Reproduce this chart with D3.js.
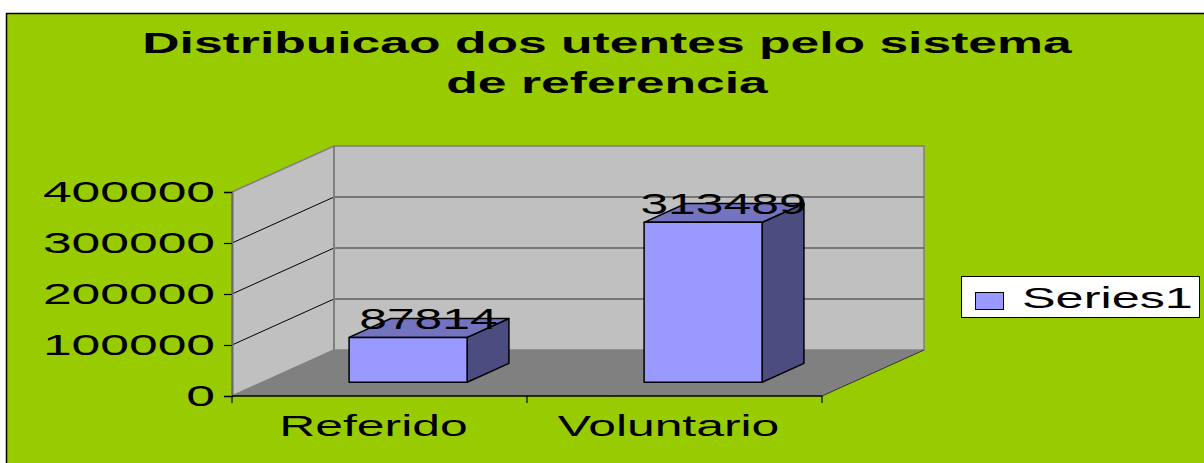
<!DOCTYPE html>
<html>
<head>
<meta charset="utf-8">
<script src="https://cdn.jsdelivr.net/npm/d3@7"></script>
<style>
  body { margin: 0; background: #fff; }
  text { font-family: "Liberation Sans", Arial, sans-serif; fill: #000; }
</style>
</head>
<body>
<svg id="chart" width="1204" height="463"></svg>
<script>
var categories = ["Referido", "Voluntario"];
var values = [87814, 313489];
var yTicks = [0, 100000, 200000, 300000, 400000];
var seriesName = "Series1";
var titleLines = ["Distribuicao dos utentes pelo sistema", "de referencia"];

var svg = d3.select("#chart");

// depth of the 3d box and where the bars sit in it
var DX = 102, DY = -46;
var fFront = 0.3, fBack = 0.71;

var y = d3.scaleLinear().domain([0, 400000]).range([396, 192]);
var x = d3.scaleBand().domain(categories).range([232, 822]);

function proj(px, py, f) { return [px + f * DX, py + f * DY]; }
function pts(a) { return a.map(function(p) { return proj(p[0], p[1], p[2]).join(","); }).join(" "); }

// stretch text horizontally like the original
function stretch(sel, k) {
  sel.each(function() {
    var w = this.getComputedTextLength();
    d3.select(this).attr("textLength", w * k).attr("lengthAdjust", "spacingAndGlyphs");
  });
}

// chart area
svg.append("rect")
  .attr("x", 6.5).attr("y", 13.5)
  .attr("width", 1300).attr("height", 600)
  .attr("fill", "#99CC00")
  .attr("stroke", "#000").attr("stroke-width", 1.5);

var xl = x.range()[0], xr = x.range()[1];
var y0 = y(0), yMax = y(400000);

// side wall
svg.append("polygon")
  .attr("points", pts([[xl, yMax, 0], [xl, yMax, 1], [xl, y0, 1], [xl, y0, 0]]))
  .attr("fill", "#C0C0C0").attr("stroke", "#808080").attr("stroke-width", 1.5);

// back wall
svg.append("polygon")
  .attr("points", pts([[xl, yMax, 1], [xr, yMax, 1], [xr, y0, 1], [xl, y0, 1]]))
  .attr("fill", "#C0C0C0").attr("stroke", "#808080").attr("stroke-width", 1.5);

// floor
svg.append("polygon")
  .attr("points", pts([[xl, y0, 0], [xr, y0, 0], [xr, y0, 1], [xl, y0, 1]]))
  .attr("fill", "#808080");
svg.append("line")
  .attr("x1", xr).attr("y1", y0)
  .attr("x2", proj(xr, y0, 1)[0]).attr("y2", proj(xr, y0, 1)[1])
  .attr("stroke", "#333").attr("stroke-width", 1);

// gridlines
var grid = yTicks.filter(function(t) { return t > 0 && t < 400000; });
svg.selectAll(".gback").data(grid).enter().append("line")
  .attr("x1", function() { return proj(xl, 0, 1)[0]; })
  .attr("x2", function() { return proj(xr, 0, 1)[0]; })
  .attr("y1", function(d) { return proj(0, y(d), 1)[1]; })
  .attr("y2", function(d) { return proj(0, y(d), 1)[1]; })
  .attr("stroke", "#5f5f5f").attr("stroke-width", 1.5);
svg.selectAll(".gside").data(grid).enter().append("line")
  .attr("x1", xl).attr("y1", function(d) { return y(d); })
  .attr("x2", proj(xl, 0, 1)[0])
  .attr("y2", function(d) { return proj(xl, y(d), 1)[1]; })
  .attr("stroke", "#000").attr("stroke-width", 1);
// back wall left edge
svg.append("line")
  .attr("x1", proj(xl, yMax, 1)[0]).attr("y1", proj(xl, yMax, 1)[1])
  .attr("x2", proj(xl, y0, 1)[0]).attr("y2", proj(xl, y0, 1)[1])
  .attr("stroke", "#808080").attr("stroke-width", 2);

// y axis
var fmt = d3.format("d");
var sx = 1.72;
var yAxis = svg.append("g")
  .attr("transform", "translate(" + xl + ",0)")
  .call(d3.axisLeft(y).tickValues(yTicks).tickFormat(fmt).tickSize(8).tickPadding(10));
yAxis.select(".domain").attr("stroke", "#6a6a6a").attr("stroke-width", 2);
yAxis.selectAll(".tick line").attr("stroke", "#000").attr("stroke-width", 1.2);
yAxis.selectAll(".tick text")
  .attr("font-size", 30).attr("fill", "#000")
  .attr("x", -17 / sx)
  .attr("transform", "scale(" + sx + ",1)");

// x axis
svg.append("line")
  .attr("x1", xl).attr("x2", xr).attr("y1", y0).attr("y2", y0)
  .attr("stroke", "#000").attr("stroke-width", 1.5);
var bounds = categories.map(function(c) { return x(c); }).concat([xr]);
svg.selectAll(".xtick").data(bounds).enter().append("line")
  .attr("x1", function(d) { return d; }).attr("x2", function(d) { return d; })
  .attr("y1", y0).attr("y2", y0 + 7)
  .attr("stroke", "#000").attr("stroke-width", 1.2);
svg.selectAll(".xlab").data(categories).enter().append("text")
  .attr("x", function(d) { return x(d) + x.bandwidth() / 2 - 6; })
  .attr("y", 436)
  .attr("text-anchor", "middle")
  .attr("font-size", 30)
  .text(function(d) { return d; })
  .call(stretch, 1.66);

// bars
var half = x.bandwidth() * 0.2;
var bars = svg.selectAll(".bar").data(values).enter().append("g");
function cx(i) { return x(categories[i]) + x.bandwidth() / 2 - 2; }
bars.append("polygon")
  .attr("points", function(d, i) {
    return pts([[cx(i) + half, y(d), fFront], [cx(i) + half, y(d), fBack], [cx(i) + half, y0, fBack], [cx(i) + half, y0, fFront]]);
  })
  .attr("fill", "#4C4C80").attr("stroke", "#000").attr("stroke-width", 1.5).attr("stroke-linejoin", "round");
bars.append("polygon")
  .attr("points", function(d, i) {
    return pts([[cx(i) - half, y(d), fFront], [cx(i) + half, y(d), fFront], [cx(i) + half, y(d), fBack], [cx(i) - half, y(d), fBack]]);
  })
  .attr("fill", "#7373BF").attr("stroke", "#000").attr("stroke-width", 1.5).attr("stroke-linejoin", "round");
bars.append("polygon")
  .attr("points", function(d, i) {
    return pts([[cx(i) - half, y(d), fFront], [cx(i) + half, y(d), fFront], [cx(i) + half, y0, fFront], [cx(i) - half, y0, fFront]]);
  })
  .attr("fill", "#9999FF").attr("stroke", "#000").attr("stroke-width", 1.5).attr("stroke-linejoin", "round");

// value labels
svg.selectAll(".vlab").data(values).enter().append("text")
  .attr("x", function(d, i) { return proj(cx(i), y(d), 0.5)[0]; })
  .attr("y", function(d, i) { return proj(cx(i), y(d), 0.5)[1] + 1; })
  .attr("text-anchor", "middle")
  .attr("font-size", 30)
  .text(function(d) { return d; })
  .call(stretch, 1.66);

// title
svg.selectAll(".title").data(titleLines).enter().append("text")
  .attr("x", 607)
  .attr("y", function(d, i) { return 53 + i * 40; })
  .attr("text-anchor", "middle")
  .attr("font-size", 29)
  .attr("font-weight", "bold")
  .text(function(d) { return d; })
  .call(stretch, 1.78);

// legend
var leg = svg.append("g");
leg.append("rect")
  .attr("x", 961.5).attr("y", 276.5).attr("width", 238).attr("height", 41)
  .attr("fill", "#fff").attr("stroke", "#000").attr("stroke-width", 1);
leg.append("rect")
  .attr("x", 975.5).attr("y", 292.5).attr("width", 28).attr("height", 17)
  .attr("fill", "#9999FF").attr("stroke", "#000").attr("stroke-width", 1);
leg.append("text")
  .attr("x", 1022).attr("y", 308)
  .attr("font-size", 30)
  .text(seriesName)
  .call(stretch, 1.68);
</script>
</body>
</html>
